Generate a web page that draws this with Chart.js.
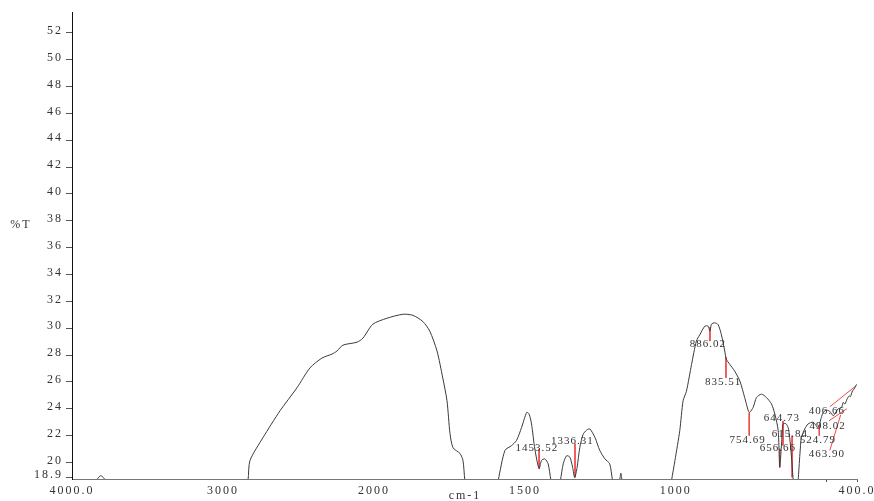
<!DOCTYPE html>
<html>
<head>
<meta charset="utf-8">
<script src="https://cdn.jsdelivr.net/npm/chart.js@4"></script>
<style>
  body { margin: 0; background: #fff; }
  #wrap { width: 874px; height: 501px; }
</style>
</head>
<body>
<div id="wrap"><canvas id="spectrum" width="874" height="501"></canvas></div>
<script>
// wavenumber (cm-1) and %T; values under 18.9 are cut off by the axis
const waveNumbers = [
    4000, 3850, 3830, 3810, 3790, 3770, 3600, 3000, 2860,
    2834, 2821, 2735, 2622, 2510, 2424, 2344, 2278, 2245, 2205, 2112, 2073, 2007,
    1957, 1904, 1871, 1838, 1815, 1791, 1772, 1758, 1748, 1738, 1715, 1705, 1699, 1690, 1620, 1595,
    1588, 1566, 1544, 1528, 1511, 1494, 1486, 1478, 1467, 1453, 1445, 1434, 1423, 1414, 1405, 1390,
    1382, 1373, 1362, 1351, 1342, 1335, 1327, 1318, 1307, 1296, 1285, 1268, 1252, 1235, 1219, 1210,
    1200, 1187, 1182, 1178, 1170, 1050, 1020,
    1014, 1003, 987, 976, 965, 948, 932, 921, 904, 893, 887, 882, 871, 860, 849, 838, 833, 821, 805,
    788, 772, 757, 744, 733, 716, 700, 683, 672, 661, 656, 650, 645, 636, 628, 623, 617, 612, 606,
    600, 595, 589, 584, 573, 562, 545, 529, 518, 512, 501, 490, 479, 474, 463, 451, 446, 440, 433,
    426, 422, 415, 410, 404, 400
];
const transmittance = [
    17.5, 18.5, 18.8, 19.02, 18.85, 18.5, 16, 15, 17.5,
    18.7, 20.15, 21.85, 23.85, 25.56, 27.04, 27.78, 28.07, 28.3, 28.74, 28.96, 29.26, 30.3,
    30.74, 31.04, 30.96, 30.5, 29.78, 28.3, 26.3, 24.6, 22.15, 21.1, 20.67, 20.15, 18.7, 17.5, 16.5, 17.8,
    18.7, 20.9, 21.26, 21.63, 22.6, 23.73, 23.6, 22.87, 21.0, 19.53, 20.15, 20.27, 19.9, 18.7, 17.8, 17.8,
    18.7, 19.9, 20.5, 20.4, 19.65, 18.87, 19.65, 21.13, 22.1, 22.4, 22.5, 21.87, 20.9, 20.27, 19.9, 18.7,
    17.8, 18.6, 19.2, 18.6, 17.5, 16, 17.8,
    18.7, 20.15, 22.37, 24.6, 25.3, 27.3, 29.04, 29.5, 30.15, 30.15, 29.78, 30.3, 30.4, 30.27, 29.5, 28.3, 27.7, 27.3, 26.8,
    26.07, 24.84, 23.73, 24.1, 24.84, 25.09, 24.84, 24.35, 23.6, 22.37, 19.65, 21.38, 22.87, 22.9, 22.6, 21.87, 20.4, 18.9, 17.6,
    17.6, 18.67, 20.64, 21.87, 22.5, 22.87, 23.0, 22.6, 23.36, 23.73, 23.9, 23.8, 23.48, 23.6, 23.98, 24.1, 24.47, 24.35, 24.72,
    24.96, 24.9, 25.33, 25.46, 25.7, 25.83
];

// picked peaks: text, where the text sits, and the red marker line
const peakNames = ['886.02', '835.51', '754.69', '644.73', '615.84', '656.66', '406.66', '498.02', '524.79', '463.90', '1453.52', '1336.31'];
const peakTextAt = [[894, 28.8], [843, 26.0], [762, 21.7], [649, 23.33], [622, 22.15], [662, 21.1], [500, 23.85], [497, 22.74], [530, 21.7], [500, 20.6], [1460, 21.1], [1343, 21.6]];
const peakLineFrom = [[887, 30.07], [834, 27.85], [757, 23.7], [645, 23.1], [615, 22.0], [656, 21.04], [490, 24.15], [493, 23.1], [525, 22.74], [490, 20.9], [1453, 21.0], [1334, 21.4]];
const peakLineTo = [[887, 29.04], [834, 26.3], [757, 22.0], [645, 21.26], [615, 18.9], [656, 19.63], [404, 25.7], [434, 24.0], [525, 22.0], [454, 23.55], [1453, 19.56], [1334, 18.9]];

const xTickValues = [4000, 3000, 2000, 1500, 1000, 500, 400];
const xTickLabels = ['4000.0', '3000', '2000', '1500', '1000', '', '400.0'];
const yTickValues = [18.9, 20, 22, 24, 26, 28, 30, 32, 34, 36, 38, 40, 42, 44, 46, 48, 50, 52];

// the scale is halved above 2000 cm-1
const breakAt = 2000;
const toAxis = (w) => w > breakAt ? breakAt + (w - breakAt) / 2 : w;

const serif = "'Liberation Serif', 'DejaVu Serif', serif";

const trace = waveNumbers.map((w, i) => ({ x: toAxis(w), y: transmittance[i] }));
const markers = [];
peakLineFrom.forEach((p, i) => {
    markers.push({ x: toAxis(p[0]), y: p[1] });
    markers.push({ x: toAxis(peakLineTo[i][0]), y: peakLineTo[i][1] });
    markers.push({ x: toAxis(p[0]), y: null });
});

const spacing = {
    id: 'spacing',
    beforeDraw: (chart) => { chart.ctx.letterSpacing = '2px'; }
};

const textLayer = {
    id: 'textLayer',
    afterDatasetsDraw: (chart) => {
        const { ctx, scales } = chart;
        ctx.save();
        ctx.letterSpacing = '1px';
        ctx.fillStyle = '#333';
        ctx.font = '11px ' + serif;
        ctx.textAlign = 'center';
        ctx.textBaseline = 'middle';
        peakNames.forEach((name, i) => {
            ctx.fillText(name, scales.x.getPixelForValue(toAxis(peakTextAt[i][0])), scales.y.getPixelForValue(peakTextAt[i][1]));
        });
        ctx.letterSpacing = '2px';
        ctx.font = '12px ' + serif;
        ctx.fillText('%T', 21, 225);
        ctx.fillText('cm-1', 465, 496);
        ctx.restore();
    }
};

new Chart(document.getElementById('spectrum'), {
    type: 'line',
    data: {
        datasets: [
            {
                data: trace,
                borderColor: '#3a3a3a',
                borderWidth: 1,
                pointRadius: 0,
                tension: 0.25
            },
            {
                data: markers,
                borderColor: '#f04848',
                borderWidth: 1,
                pointRadius: 0,
                spanGaps: false
            }
        ]
    },
    options: {
        responsive: false,
        devicePixelRatio: 1,
        animation: false,
        layout: { padding: { top: 12, right: 17, left: 0, bottom: 0 } },
        plugins: { legend: { display: false }, tooltip: { enabled: false } },
        scales: {
            x: {
                type: 'linear',
                reverse: true,
                min: toAxis(4000),
                max: 400,
                afterFit: (scale) => { scale.height = 22; },
                afterBuildTicks: (scale) => { scale.ticks = xTickValues.map(v => ({ value: toAxis(v) })); },
                border: { color: '#777', width: 1 },
                grid: {
                    drawOnChartArea: false,
                    tickLength: 3,
                    color: (c) => (c.tick && c.tick.value <= 500) ? '#555' : 'rgba(0,0,0,0)'
                },
                ticks: {
                    autoSkip: false,
                    maxRotation: 0,
                    padding: 2,
                    color: '#333',
                    font: { family: serif, size: 12 },
                    callback: (value, index) => xTickLabels[index]
                }
            },
            y: {
                min: 18.77,
                max: 53.55,
                afterFit: (scale) => { scale.width = 72; },
                afterBuildTicks: (scale) => { scale.ticks = yTickValues.map(v => ({ value: v })); },
                border: { color: '#111', width: 1 },
                grid: { drawOnChartArea: false, tickLength: 6, color: '#555' },
                ticks: {
                    autoSkip: false,
                    padding: 3,
                    labelOffset: -2,
                    color: '#333',
                    font: { family: serif, size: 12 },
                    callback: (value) => String(value)
                }
            }
        }
    },
    plugins: [spacing, textLayer]
});
</script>
</body>
</html>
